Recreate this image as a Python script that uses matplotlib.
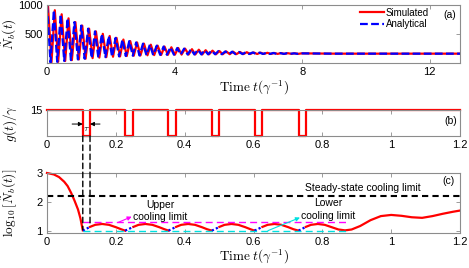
import numpy as np
import matplotlib.pyplot as plt
from matplotlib.patches import ConnectionPatch

plt.rcParams['mathtext.fontset'] = 'cm'
plt.rcParams['font.family'] = ['Liberation Sans', 'DejaVu Sans']

# ---- panel (a): extrema of the damped oscillation
ana_t = [0.00, 0.11, 0.215, 0.32, 0.43, 0.54, 0.645, 0.75, 0.86, 0.97,
         1.075, 1.18, 1.29, 1.40, 1.505, 1.61, 1.72, 1.83, 1.935, 2.04,
         2.15, 2.26, 2.365, 2.47, 2.58, 2.69, 2.795, 2.90, 3.01, 3.12,
         3.225, 3.33, 3.44, 3.55, 3.655, 3.76, 3.87, 3.98, 4.085, 4.19,
         4.30, 4.41, 4.515, 4.62, 4.73, 4.84, 4.945, 5.05, 5.16, 5.27,
         5.375, 5.48, 5.59, 5.70, 5.805, 5.91, 6.02, 6.13, 6.235, 6.34,
         6.45, 6.56, 6.665, 6.77, 6.88, 6.99, 7.095, 7.20, 7.31, 7.42,
         7.525, 7.63, 7.74, 7.85, 7.955, 9.0, 13.0]
ana_n = [1000, 10, 910, 20, 840, 35, 770, 50, 705, 62,
         645, 74, 592, 84, 545, 93, 503, 101, 466, 108,
         433, 114, 404, 120, 378, 125, 355, 129, 334, 133,
         316, 136, 299, 139, 284, 141, 271, 143, 259, 145,
         248, 146, 238, 147, 229, 148, 221, 149, 213, 150,
         206, 151, 200, 152, 195, 153, 190, 154, 186, 155,
         182, 155, 179, 156, 176, 156, 173, 157, 171, 157,
         169, 158, 167, 158, 166, 161, 161]
sim_lag = 0.03  # simulated curve runs slightly behind the analytical one

# ---- panel (b): coupling pulses
pulse_start = [0.104, 0.227, 0.353, 0.479, 0.603, 0.731]
pulse_end = [0.125, 0.251, 0.375, 0.501, 0.626, 0.752]
g_high = 15
g_low = 0

# ---- panel (c): log10 of phonon number
red_t = [0.0, 0.02, 0.035, 0.05, 0.06, 0.07, 0.08, 0.09, 0.097, 0.104]
red_v = [3.0, 2.95, 2.86, 2.70, 2.55, 2.32, 2.05, 1.75, 1.45, 1.03]
seg_t = [[0.125, 0.14, 0.16, 0.18, 0.20, 0.215, 0.227],
         [0.251, 0.266, 0.286, 0.306, 0.326, 0.341, 0.353],
         [0.375, 0.39, 0.41, 0.43, 0.45, 0.465, 0.479],
         [0.501, 0.516, 0.536, 0.556, 0.576, 0.591, 0.603],
         [0.626, 0.641, 0.661, 0.681, 0.701, 0.716, 0.731]]
seg_v = [[1.15, 1.22, 1.25, 1.22, 1.14, 1.07, 1.02],
         [1.15, 1.22, 1.25, 1.22, 1.14, 1.07, 1.02],
         [1.15, 1.22, 1.25, 1.22, 1.14, 1.07, 1.02],
         [1.15, 1.22, 1.25, 1.22, 1.14, 1.07, 1.02],
         [1.15, 1.22, 1.25, 1.22, 1.14, 1.07, 1.02]]
tail_t = [0.752, 0.767, 0.787, 0.807, 0.827, 0.847, 0.866, 0.885, 0.91,
          0.94, 0.97, 1.0, 1.03, 1.06, 1.09, 1.12, 1.15, 1.18, 1.2]
tail_v = [1.15, 1.22, 1.25, 1.22, 1.14, 1.06, 1.03, 1.06, 1.18,
          1.38, 1.52, 1.56, 1.53, 1.48, 1.46, 1.52, 1.60, 1.67, 1.71]
pulse_v0 = 1.02
pulse_v1 = 1.15
steady_limit = 2.22
upper_limit = 1.305
lower_limit = 1.0
limit_span = [0.104, 0.87]


def style(ax):
    for s in ax.spines.values():
        s.set_color('#8c8c8c')
        s.set_linewidth(0.8)
    ax.tick_params(direction='in', top=True, right=True, length=3, width=0.6,
                   color='#8c8c8c', labelsize=8, pad=3)


fig = plt.figure(figsize=(4.69, 2.68), dpi=100)
W, H = 469, 268
axa = fig.add_axes([47 / W, 1 - 63 / H, 413 / W, 58 / H])
axb = fig.add_axes([47 / W, 1 - 136 / H, 413 / W, 26 / H])
axc = fig.add_axes([47 / W, 1 - 232.7 / H, 413 / W, 59.7 / H])
lab_x = -0.068

# (a)
axa.plot(np.array(ana_t) + sim_lag, ana_n, color='red', lw=1.6, label='Simulated')
axa.plot(ana_t, ana_n, color='blue', lw=1.6, ls=(0, (3.5, 1.5)), label='Analytical')
axa.set_xlim(0, 12.95)
axa.set_ylim(0, 1000)
axa.set_xticks([0, 4, 8, 12])
axa.set_yticks([500, 1000])
style(axa)
axa.set_xlabel(r'$\mathrm{Time}\ t(\gamma^{-1})$', fontsize=9.5, labelpad=1)
axa.set_ylabel(r'$\tilde{N}_b(t)$', fontsize=9.5)
axa.yaxis.set_label_coords(lab_x, 0.5)
axa.legend(loc='upper right', bbox_to_anchor=(0.925, 0.95), frameon=False,
           fontsize=7, handlelength=2.5, handletextpad=0.2, labelspacing=0.15,
           borderaxespad=0, borderpad=0)
axa.text(12.63, 828, '(a)', fontsize=7.5, ha='center', va='center')

# (b)
gt = [0.0]
gv = [g_high]
for s, e in zip(pulse_start, pulse_end):
    gt += [s, s, e, e]
    gv += [g_high, g_low, g_low, g_high]
gt.append(1.2)
gv.append(g_high)
axb.plot(gt, gv, color='red', lw=1.6, clip_on=False)
axb.set_xlim(0, 1.2)
axb.set_ylim(0, 15)
axb.set_yticks([15])
axb.set_xticks([0, 0.2, 0.4, 0.6, 0.8, 1.0, 1.2])
axb.set_xticklabels(['0', '0.2', '0.4', '0.6', '0.8', '1', '1.2'])
style(axb)
axb.set_ylabel(r'$g(t)/\gamma$', fontsize=9.5)
axb.yaxis.set_label_coords(lab_x, 0.5)
axb.text(1.174, 8.6, '(b)', fontsize=7.5, ha='center', va='center')
ap = dict(arrowstyle='-|>', color='black', lw=0.7, mutation_scale=6,
          shrinkA=0, shrinkB=0)
axb.annotate('', xy=(pulse_start[0], 6.9), xytext=(0.073, 6.9), arrowprops=ap)
axb.annotate('', xy=(pulse_end[0], 6.9), xytext=(0.154, 6.9), arrowprops=ap)
axb.text((pulse_start[0] + pulse_end[0]) / 2, 4.5, r'$\tau$', fontsize=7,
         ha='center', va='center')

# (c)
axc.plot(red_t, red_v, color='red', lw=1.6, clip_on=False)
for st, sv in zip(seg_t, seg_v):
    axc.plot(st, sv, color='red', lw=1.6)
axc.plot(tail_t, tail_v, color='red', lw=1.6)
for s, e in zip(pulse_start, pulse_end):
    axc.plot([s, e], [pulse_v0, pulse_v1], color='blue', lw=1.6, ls=(0, (1, 1)))
axc.plot([0, 1.2], [steady_limit] * 2, color='black', lw=1.5, ls=(0, (3, 2)))
axc.plot(limit_span, [upper_limit] * 2, color='magenta', lw=1.0, ls=(0, (5, 3)))
axc.plot(limit_span, [lower_limit] * 2, color='#00e0e0', lw=1.0, ls=(0, (5, 3)))
axc.set_xlim(0, 1.2)
axc.set_ylim(0.95, 3.0)
axc.set_yticks([1, 2, 3])
axc.set_xticks([0, 0.2, 0.4, 0.6, 0.8, 1.0, 1.2])
axc.set_xticklabels(['0', '0.2', '0.4', '0.6', '0.8', '1', '1.2'])
style(axc)
axc.set_xlabel(r'$\mathrm{Time}\ t(\gamma^{-1})$', fontsize=9.5, labelpad=1)
axc.set_ylabel(r'$\log_{10}[\tilde{N}_b(t)]$', fontsize=9.5)
axc.yaxis.set_label_coords(lab_x, 0.5)
axc.text(0.919, 2.47, 'Steady-state cooling limit', fontsize=7.5,
         ha='center', va='center')
axc.text(1.166, 2.72, '(c)', fontsize=7.5, ha='center', va='center')
axc.text(0.328, 1.91, 'Upper', fontsize=7.5, ha='center', va='center')
axc.text(0.328, 1.49, 'cooling limit', fontsize=7.5, ha='center', va='center')
axc.text(0.818, 1.98, 'Lower', fontsize=7.5, ha='center', va='center')
axc.text(0.818, 1.53, 'cooling limit', fontsize=7.5, ha='center', va='center')
axc.annotate('', xy=(0.246, 1.50), xytext=(0.207, upper_limit),
             arrowprops=dict(arrowstyle='-|>', color='magenta', lw=0.8,
                             mutation_scale=6, shrinkA=0, shrinkB=0))
axc.annotate('', xy=(0.735, 1.47), xytext=(0.642, 1.02),
             arrowprops=dict(arrowstyle='-|>', color='#00e0e0', lw=0.8,
                             mutation_scale=6, shrinkA=0, shrinkB=0))

# dashed markers of the first pulse, running from (b) into (c)
for t, v in zip([pulse_start[0], pulse_end[0]], [1.05, 1.2]):
    con = ConnectionPatch(xyA=(t, 0), coordsA=axb.transData,
                          xyB=(t, v), coordsB=axc.transData,
                          color='black', lw=1.0, ls=(0, (4, 2.5)))
    fig.add_artist(con)

fig.savefig('out.png', dpi=100)
